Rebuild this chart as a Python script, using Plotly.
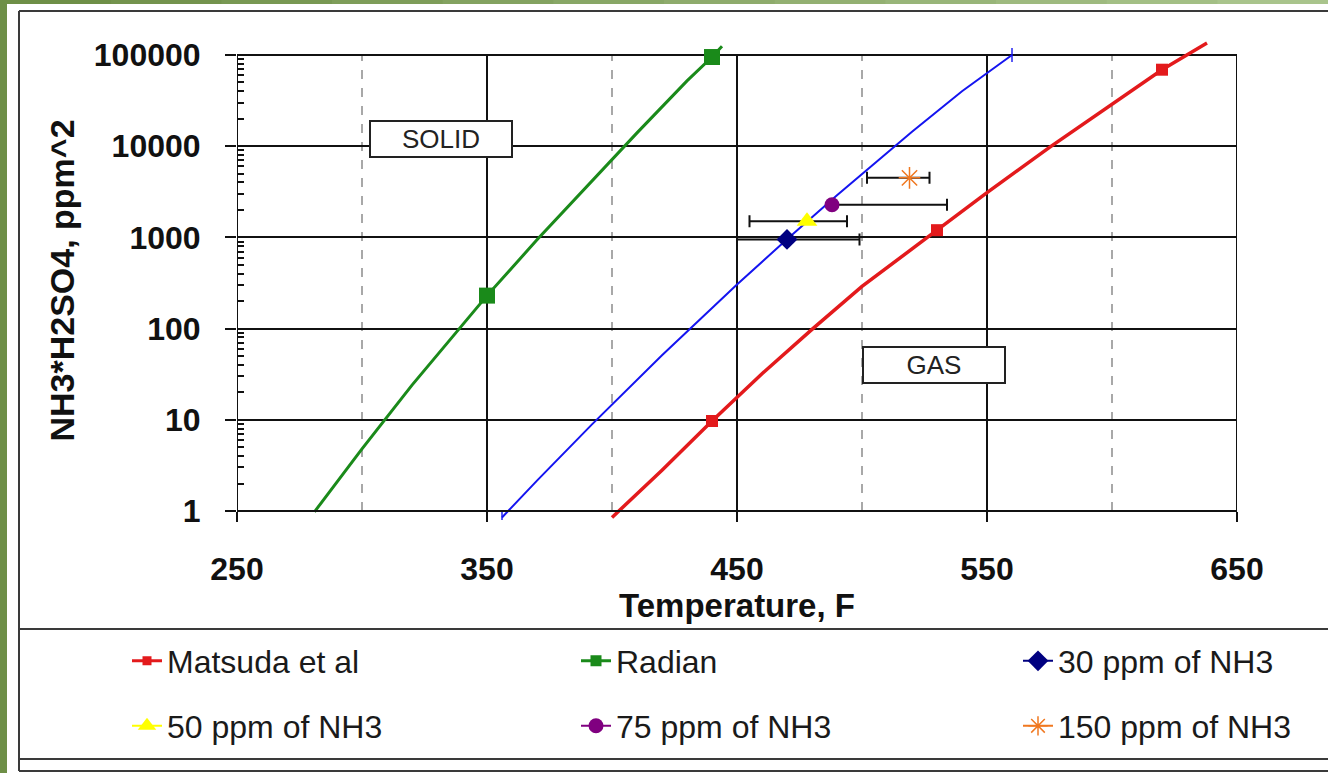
import math
import plotly.graph_objects as go

# ---------------- data ----------------
MATSUDA_T = [400, 420, 440, 460, 480, 500, 530, 550, 575, 600, 620, 638]
MATSUDA_V = [0.85, 2.8, 9.7, 32, 98, 290, 1200, 3100, 9700, 29000, 69000, 135000]
MATSUDA_PT_T = [440, 530, 620]
MATSUDA_PT_V = [9.7, 1200, 69000]

RADIAN_T = [281, 300, 320, 340, 350, 370, 390, 410, 430, 440, 444]
RADIAN_V = [0.98, 4.8, 24, 110, 230, 940, 3600, 14000, 52000, 95000, 125000]
RADIAN_PT_T = [350, 440]
RADIAN_PT_V = [230, 95000]

FIT_T = [356, 370, 392, 420, 450, 470, 490, 520, 540, 560]
FIT_V = [0.85, 2.15, 8.9, 51, 304, 955, 2900, 14400, 40000, 100000]

PPM30_T, PPM30_V, PPM30_ERR_MINUS, PPM30_ERR_PLUS = [470], [950], [20], [29]
PPM50_T, PPM50_V, PPM50_ERR_MINUS, PPM50_ERR_PLUS = [478], [1500], [23], [16]
PPM75_T, PPM75_V, PPM75_ERR_MINUS, PPM75_ERR_PLUS = [488], [2280], [0], [46]
PPM150_T, PPM150_V, PPM150_ERR_MINUS, PPM150_ERR_PLUS = [519], [4500], [17], [8]

SERIES_NAMES = ["Matsuda et al", "Radian", "30 ppm of NH3",
                "50 ppm of NH3", "75 ppm of NH3", "150 ppm of NH3"]

X_TICKS = [250, 350, 450, 550, 650]
Y_TICKS = [1, 10, 100, 1000, 10000, 100000]
Y_TICK_TEXT = ["1", "10", "100", "1000", "10000", "100000"]
Y_MINOR = [m * 10 ** k for k in range(5) for m in range(2, 10)]
X_GRID_DASHED = [300, 400, 500, 600]
X_GRID_SOLID = [350, 450, 550]

REGION_LABELS = ["SOLID", "GAS"]
REGION_T = [331.4, 528.8]
REGION_V = [12130, 39.4]

# ---------------- layout geometry (pixels) ----------------
W, H = 1328, 773
PL, PR = 237, 1237          # plot left / right px
PT, PB = 41, 520            # plot top / bottom px
PX_PER_DEC = 91.2
Y0_PX = 511                 # pixel of y = 1
YMIN = -(PB - Y0_PX) / PX_PER_DEC
YMAX = (Y0_PX - PT) / PX_PER_DEC


def px(p):
    return (p - PL) / (PR - PL)


def py(p):
    return (PB - p) / (PB - PT)


FONT = "Liberation Sans"
RED, GREEN, BLUE = "#e31a1c", "#1a8a1a", "#1414f0"
NAVY, YELLOW, PURPLE, ORANGE = "#000080", "#ffff00", "#800080", "#f07820"

fig = go.Figure()

# curves
fig.add_trace(go.Scatter(x=FIT_T, y=FIT_V, mode="lines+markers", showlegend=False,
                         line=dict(color=BLUE, width=2),
                         marker=dict(symbol="line-ns-open", color=BLUE,
                                     size=[10 if i in (0, len(FIT_T) - 1) else 0 for i in range(len(FIT_T))],
                                     line=dict(width=2, color=BLUE)),
                         hoverinfo="skip"))
fig.add_trace(go.Scatter(x=MATSUDA_T, y=MATSUDA_V, mode="lines", showlegend=False,
                         line=dict(color=RED, width=3.5), legendgroup="m"))
fig.add_trace(go.Scatter(x=MATSUDA_PT_T, y=MATSUDA_PT_V, mode="markers", showlegend=False,
                         marker=dict(symbol="square", size=12, color=RED), legendgroup="m"))
fig.add_trace(go.Scatter(x=RADIAN_T, y=RADIAN_V, mode="lines", showlegend=False,
                         line=dict(color=GREEN, width=3), legendgroup="r"))
fig.add_trace(go.Scatter(x=RADIAN_PT_T, y=RADIAN_PT_V, mode="markers", showlegend=False,
                         marker=dict(symbol="square", size=16, color=GREEN), legendgroup="r"))

# legend entries for the two curves
fig.add_trace(go.Scatter(x=[None], y=[None], mode="lines+markers", name=SERIES_NAMES[0],
                         line=dict(color=RED, width=3), marker=dict(symbol="square", size=9, color=RED),
                         legendgroup="m", legend="legend"))
fig.add_trace(go.Scatter(x=[None], y=[None], mode="lines+markers", name=SERIES_NAMES[1],
                         line=dict(color=GREEN, width=3), marker=dict(symbol="square", size=11, color=GREEN),
                         legendgroup="r", legend="legend2"))


def err(minus, plus):
    return dict(type="data", symmetric=False, array=plus, arrayminus=minus,
                color="#111111", thickness=2, width=6)


fig.add_trace(go.Scatter(x=PPM30_T, y=PPM30_V, mode="lines+markers", name=SERIES_NAMES[2],
                         line=dict(color=NAVY, width=2),
                         marker=dict(symbol="diamond", size=16, color=NAVY),
                         error_x=err(PPM30_ERR_MINUS, PPM30_ERR_PLUS), legend="legend3"))
fig.add_trace(go.Scatter(x=PPM50_T, y=PPM50_V, mode="lines+markers", name=SERIES_NAMES[3],
                         line=dict(color=YELLOW, width=2),
                         marker=dict(symbol="triangle-up", size=18, color=YELLOW),
                         error_x=err(PPM50_ERR_MINUS, PPM50_ERR_PLUS), legend="legend4"))
fig.add_trace(go.Scatter(x=PPM75_T, y=PPM75_V, mode="lines+markers", name=SERIES_NAMES[4],
                         line=dict(color=PURPLE, width=2),
                         marker=dict(symbol="circle", size=15, color=PURPLE),
                         error_x=err(PPM75_ERR_MINUS, PPM75_ERR_PLUS), legend="legend5"))
fig.add_trace(go.Scatter(x=PPM150_T, y=PPM150_V, mode="lines+markers", name=SERIES_NAMES[5],
                         line=dict(color=ORANGE, width=2),
                         marker=dict(symbol="asterisk-open", size=18, color=ORANGE,
                                     line=dict(color=ORANGE, width=1.5)),
                         error_x=err(PPM150_ERR_MINUS, PPM150_ERR_PLUS), legend="legend6"))

shapes = []
# green page strips
shapes.append(dict(type="rect", xref="paper", yref="paper", x0=px(0), x1=px(7), y0=py(H), y1=py(0),
                   fillcolor="#6e8f47", line=dict(width=0), layer="below"))
NSEG = 12


def mix(a, b, t):
    return "#%02x%02x%02x" % tuple(int(a[i] + (b[i] - a[i]) * t) for i in range(3))


for i in range(NSEG):
    shapes.append(dict(type="rect", xref="paper", yref="paper",
                       x0=px(W * i / NSEG), x1=px(W * (i + 1) / NSEG + 1), y0=py(4), y1=py(0),
                       fillcolor=mix((0x6e, 0x8f, 0x47), (0xa9, 0xc4, 0x8c), i / (NSEG - 1)),
                       line=dict(width=0), layer="below"))
# frame lines
FR = dict(color="#3a3a3a", width=2)
for yy in (11, 629, 759, 771):
    shapes.append(dict(type="line", xref="paper", yref="paper", x0=px(19), x1=px(W + 5),
                       y0=py(yy), y1=py(yy), line=FR))
shapes.append(dict(type="line", xref="paper", yref="paper", x0=px(19), x1=px(19),
                   y0=py(11), y1=py(771), line=FR))
# vertical gridlines (stop at the top decade)
for xv in X_GRID_DASHED:
    shapes.append(dict(type="line", xref="x", yref="y", x0=xv, x1=xv, y0=Y_TICKS[0], y1=Y_TICKS[-1],
                       line=dict(color="#8c8c8c", width=1.5, dash="dash"), layer="below"))
for xv in X_GRID_SOLID:
    shapes.append(dict(type="line", xref="x", yref="y", x0=xv, x1=xv, y0=Y_TICKS[0], y1=Y_TICKS[-1],
                       line=dict(color="#111111", width=2), layer="below"))
# y axis line and right border
for xv in (X_TICKS[0], X_TICKS[-1]):
    shapes.append(dict(type="line", xref="x", yref="y", x0=xv, x1=xv, y0=Y_TICKS[0], y1=Y_TICKS[-1],
                       line=dict(color="#111111", width=2), layer="below"))

annotations = []
for lab, tx, vy in zip(REGION_LABELS, REGION_T, REGION_V):
    annotations.append(dict(x=tx, y=math.log10(vy), xref="x", yref="y", text=lab, showarrow=False,
                            font=dict(family=FONT, size=26, color="#222222"),
                            bgcolor="white", bordercolor="#222222", borderwidth=2, borderpad=2,
                            width=136, height=30))

tickfont = dict(family=FONT, size=32, color="#111111", weight="bold")
xtitlefont = dict(family=FONT, size=33, color="#111111", weight="bold")
ytitlefont = dict(family=FONT, size=34, color="#111111", weight="bold")

# legends: one per entry, 2 rows x 3 columns
LEG_X = [127, 576, 1018]
LEG_Y = [661, 726]
legends = {}
for k in range(6):
    key = "legend" if k == 0 else "legend%d" % (k + 1)
    legends[key] = dict(orientation="h", x=px(LEG_X[k % 3]), y=py(LEG_Y[k // 3]),
                        xanchor="left", yanchor="middle",
                        font=dict(family=FONT, size=32, color="#1a1a1a"),
                        bgcolor="rgba(0,0,0,0)", borderwidth=0)

fig.update_layout(
    width=W, height=H,
    margin=dict(l=PL, r=W - PR, t=PT, b=H - PB, pad=0),
    paper_bgcolor="white", plot_bgcolor="rgba(0,0,0,0)",
    shapes=shapes, annotations=annotations,
    xaxis=dict(type="linear", range=[X_TICKS[0], X_TICKS[-1]], tickvals=X_TICKS,
               ticks="outside", ticklen=10, tickwidth=2, tickcolor="#111111",
               showline=True, linecolor="#111111", linewidth=2,
               anchor="free", position=(0 - YMIN) / (YMAX - YMIN),
               showgrid=False, zeroline=False, tickfont=tickfont, ticklabelstandoff=20,
               title=dict(text="Temperature, F", font=xtitlefont, standoff=5)),
    yaxis=dict(type="log", range=[YMIN, YMAX], tickvals=Y_TICKS, ticktext=Y_TICK_TEXT,
               ticks="outside", ticklen=11, tickwidth=2, tickcolor="#111111",
               showline=False, showgrid=True, gridcolor="#111111", gridwidth=2,
               minor=dict(tickvals=Y_MINOR, ticks="inside", ticklen=7, tickwidth=1.5,
                          tickcolor="#111111", showgrid=False),
               zeroline=False, tickfont=tickfont, ticklabelstandoff=18,
               title=dict(text="NH3*H2SO4, ppm^2", font=ytitlefont, standoff=8)),
    showlegend=True,
    **legends,
)

fig.write_html("out.html")
